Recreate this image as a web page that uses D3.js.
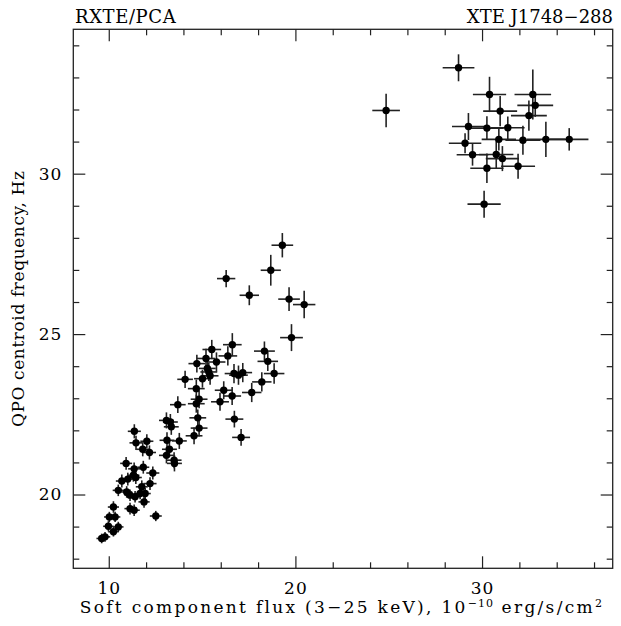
<!DOCTYPE html>
<html>
<head>
<meta charset="utf-8">
<script src="https://cdn.jsdelivr.net/npm/d3@7"></script>
<style>
  html, body { margin: 0; padding: 0; background: #fff; }
  text { font-family: "DejaVu Serif", "Liberation Serif", serif; fill: #000; }
</style>
</head>
<body>
<svg id="chart" width="621" height="626"></svg>
<script>
// ---- data ----
const flux = [
  28.74, 24.86, 30.40, 32.72, 32.85, 30.97, 32.51, 29.27, 30.26, 31.38, 30.90, 32.19, 33.42, 34.67, 29.09, 29.49, 30.76, 31.09, 30.26, 31.93, 30.11,
  19.30, 18.68, 16.29, 17.53, 19.66, 20.47, 19.79, 18.34, 18.52, 16.62, 16.38, 15.52, 15.21, 15.77, 14.72, 15.28, 15.36, 15.43, 15.02, 14.09,
  18.86, 16.71, 16.95, 17.18, 18.20, 17.66, 16.16, 16.61, 15.96, 14.69, 14.84, 14.69, 13.70, 14.77, 16.73, 14.84, 14.57, 17.09,
  13.09, 13.30, 13.35, 13.12, 13.78, 13.25, 13.09, 13.50, 13.52,
  11.37, 11.46, 12.04, 11.82, 12.18, 10.93, 11.36, 11.85, 12.36, 11.32, 10.70, 11.02, 11.45, 11.77, 12.21,
  10.51, 10.96, 11.14, 11.41, 11.68, 11.95, 11.89, 11.14, 11.36, 10.25, 10.03, 10.34, 10.51, 9.98, 12.52, 10.25, 9.80, 9.62
];
const fluxErr = [
  0.85, 0.74, 0.89, 0.98, 0.96, 0.91, 0.96, 0.88, 0.90, 0.90, 0.92, 0.94, 1.03, 1.03, 0.87, 0.85, 0.92, 0.89, 0.89, 0.91, 0.89,
  0.58, 0.54, 0.49, 0.52, 0.58, 0.60, 0.61, 0.56, 0.55, 0.50, 0.50, 0.50, 0.48, 0.48, 0.45, 0.45, 0.45, 0.45, 0.45, 0.42,
  0.55, 0.50, 0.50, 0.50, 0.52, 0.52, 0.48, 0.48, 0.48, 0.45, 0.45, 0.45, 0.42, 0.45, 0.48, 0.45, 0.45, 0.48,
  0.40, 0.40, 0.40, 0.40, 0.40, 0.40, 0.40, 0.40, 0.40,
  0.35, 0.35, 0.35, 0.35, 0.35, 0.32, 0.32, 0.32, 0.35, 0.32, 0.32, 0.32, 0.32, 0.32, 0.35,
  0.30, 0.30, 0.30, 0.30, 0.30, 0.30, 0.30, 0.30, 0.30, 0.30, 0.28, 0.28, 0.28, 0.28, 0.32, 0.28, 0.28, 0.28
];
const freq = [
  33.30, 31.97, 32.47, 32.47, 32.13, 31.95, 31.81, 31.47, 31.42, 31.43, 31.07, 31.04, 31.07, 31.07, 30.95, 30.59, 30.60, 30.47, 30.17, 30.23, 29.05,
  27.77, 26.99, 26.73, 26.21, 26.09, 25.92, 24.89, 24.47, 24.15, 24.67, 24.32, 24.52, 24.24, 24.13, 24.08, 23.93, 23.82, 23.70, 23.61, 23.59,
  23.77, 23.77, 23.72, 23.80, 23.51, 23.18, 23.25, 23.07, 22.89, 23.30, 22.97, 22.83, 22.80, 22.39, 22.35, 22.07, 21.83, 21.78,
  22.31, 22.26, 22.11, 21.69, 21.67, 21.41, 21.22, 21.07, 20.97,
  21.97, 21.61, 21.66, 21.41, 21.31, 20.97, 20.80, 20.85, 20.67, 20.60, 20.42, 20.48, 20.53, 20.24, 20.34,
  20.13, 20.08, 19.98, 19.93, 20.03, 20.03, 19.77, 19.56, 19.51, 19.61, 19.30, 19.30, 18.99, 19.01, 19.33, 18.84, 18.68, 18.63
];
const freqErr = [
  0.42, 0.52, 0.55, 0.78, 0.36, 0.47, 0.47, 0.42, 0.37, 0.35, 0.35, 0.45, 0.55, 0.35, 0.31, 0.34, 0.45, 0.39, 0.46, 0.39, 0.42,
  0.38, 0.48, 0.27, 0.31, 0.37, 0.43, 0.42, 0.30, 0.30, 0.36, 0.30, 0.30, 0.30, 0.30, 0.28, 0.28, 0.28, 0.28, 0.28, 0.27,
  0.32, 0.30, 0.30, 0.30, 0.30, 0.30, 0.28, 0.28, 0.28, 0.28, 0.28, 0.28, 0.26, 0.26, 0.26, 0.26, 0.26, 0.26,
  0.25, 0.25, 0.25, 0.25, 0.25, 0.25, 0.25, 0.25, 0.25,
  0.22, 0.22, 0.22, 0.22, 0.22, 0.20, 0.20, 0.20, 0.20, 0.20, 0.20, 0.20, 0.20, 0.20, 0.20,
  0.18, 0.18, 0.18, 0.18, 0.18, 0.18, 0.18, 0.18, 0.18, 0.18, 0.16, 0.16, 0.16, 0.16, 0.16, 0.15, 0.15, 0.15
];
const xMajorTicks = [10, 20, 30];
const xMinorTicks = [12, 14, 16, 18, 22, 24, 26, 28, 32, 34, 36];
const yMajorTicks = [20, 25, 30];
const yMinorTicks = [18, 19, 21, 22, 23, 24, 26, 27, 28, 29, 31, 32, 33, 34];
const xDomain = [8.1, 37.0];
const yDomain = [17.7, 34.5];
const titleLeft = "RXTE/PCA";
const titleRight = "XTE J1748\u2212288";

// ---- layout ----
const svg = d3.select("#chart");
const L = 73.3, R = 612.7, T = 29.3, B = 568.3;
const x = d3.scaleLinear().domain(xDomain).range([L, R]);
const y = d3.scaleLinear().domain(yDomain).range([B, T]);
const fs = 17;

svg.append("rect").attr("width", 621).attr("height", 626).attr("fill", "#fff");

function styleAxis(g) {
  g.select(".domain").remove();
  g.selectAll(".tick line").attr("stroke", "#222").attr("stroke-width", 1.2);
  g.selectAll("text").style("font-family", '"DejaVu Serif", serif').style("font-size", fs + "px")
    .style("letter-spacing", "1px").attr("fill", "#000");
}

// bottom
svg.append("g").attr("transform", `translate(0,${B})`)
  .call(d3.axisBottom(x).tickValues(xMajorTicks).tickSize(-12).tickPadding(14).tickFormat(d3.format("d")))
  .call(styleAxis);
svg.append("g").attr("transform", `translate(0,${B})`)
  .call(d3.axisBottom(x).tickValues(xMinorTicks).tickSize(-6).tickFormat(""))
  .call(styleAxis);
// top
svg.append("g").attr("transform", `translate(0,${T})`)
  .call(d3.axisTop(x).tickValues(xMajorTicks).tickSize(-12).tickFormat(""))
  .call(styleAxis);
svg.append("g").attr("transform", `translate(0,${T})`)
  .call(d3.axisTop(x).tickValues(xMinorTicks).tickSize(-6).tickFormat(""))
  .call(styleAxis);
// left
svg.append("g").attr("transform", `translate(${L},0)`)
  .call(d3.axisLeft(y).tickValues(yMajorTicks).tickSize(-12).tickPadding(11).tickFormat(d3.format("d")))
  .call(styleAxis);
svg.append("g").attr("transform", `translate(${L},0)`)
  .call(d3.axisLeft(y).tickValues(yMinorTicks).tickSize(-6).tickFormat(""))
  .call(styleAxis);
// right
svg.append("g").attr("transform", `translate(${R},0)`)
  .call(d3.axisRight(y).tickValues(yMajorTicks).tickSize(-12).tickFormat(""))
  .call(styleAxis);
svg.append("g").attr("transform", `translate(${R},0)`)
  .call(d3.axisRight(y).tickValues(yMinorTicks).tickSize(-6).tickFormat(""))
  .call(styleAxis);

// frame
svg.append("rect").attr("x", L).attr("y", T).attr("width", R - L).attr("height", B - T)
  .attr("fill", "none").attr("stroke", "#222").attr("stroke-width", 1.3);

// data
const pts = flux.map((f, i) => ({ x: f, xe: fluxErr[i], y: freq[i], ye: freqErr[i] }));
const gp = svg.append("g");
gp.selectAll("line.xe").data(pts).join("line").attr("class", "xe")
  .attr("x1", d => x(d.x - d.xe)).attr("x2", d => x(d.x + d.xe))
  .attr("y1", d => y(d.y)).attr("y2", d => y(d.y))
  .attr("stroke", "#222").attr("stroke-width", 1.6);
gp.selectAll("line.ye").data(pts).join("line").attr("class", "ye")
  .attr("x1", d => x(d.x)).attr("x2", d => x(d.x))
  .attr("y1", d => y(d.y - d.ye)).attr("y2", d => y(d.y + d.ye))
  .attr("stroke", "#222").attr("stroke-width", 1.6);
gp.selectAll("circle").data(pts).join("circle")
  .attr("cx", d => x(d.x)).attr("cy", d => y(d.y)).attr("r", 3.7).attr("fill", "#000");

// titles
svg.append("text").attr("x", 75).attr("y", 23).style("font-size", "18px").style("letter-spacing", "0.6px").text(titleLeft);
svg.append("text").attr("x", 613).attr("y", 23).attr("text-anchor", "end").style("font-size", "18px").text(titleRight);

// x label
const xl = svg.append("text").attr("x", (L + R) / 2 - 1).attr("y", 613).attr("text-anchor", "middle")
  .style("font-size", fs + "px").style("letter-spacing", "2.3px");
xl.append("tspan").text("Soft component flux (3\u221225 keV), 10");
xl.append("tspan").attr("dy", -6).style("font-size", "11px").style("letter-spacing", "1px").text("\u221210");
xl.append("tspan").attr("dy", 6).text(" erg/s/cm");
xl.append("tspan").attr("dy", -6).style("font-size", "11px").text("2");

// y label
svg.append("text").attr("transform", `translate(24,${(T + B) / 2}) rotate(-90)`)
  .attr("text-anchor", "middle").style("font-size", fs + "px").style("letter-spacing", "0.6px")
  .text("QPO centroid frequency, Hz");
</script>
</body>
</html>
